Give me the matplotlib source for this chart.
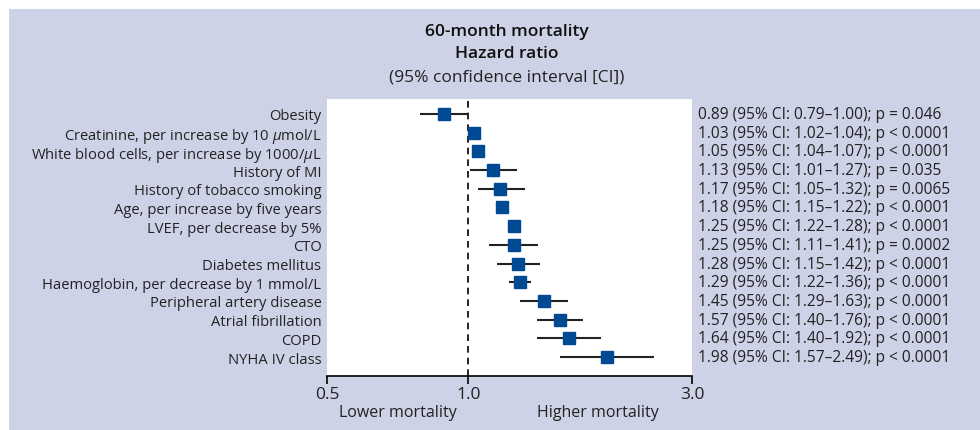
import matplotlib.pyplot as plt
from matplotlib.patches import Rectangle

# forest plot data, top to bottom
labels = [
    "Obesity",
    r"Creatinine, per increase by 10 $\mu$mol/L",
    r"White blood cells, per increase by 1000/$\mu$L",
    "History of MI",
    "History of tobacco smoking",
    "Age, per increase by five years",
    "LVEF, per decrease by 5%",
    "CTO",
    "Diabetes mellitus",
    "Haemoglobin, per decrease by 1 mmol/L",
    "Peripheral artery disease",
    "Atrial fibrillation",
    "COPD",
    "NYHA IV class",
]
hr = [0.89, 1.03, 1.05, 1.13, 1.17, 1.18, 1.25, 1.25, 1.28, 1.29, 1.45, 1.57, 1.64, 1.98]
ci_low = [0.79, 1.02, 1.04, 1.01, 1.05, 1.15, 1.22, 1.11, 1.15, 1.22, 1.29, 1.40, 1.40, 1.57]
ci_high = [1.00, 1.04, 1.07, 1.27, 1.32, 1.22, 1.28, 1.41, 1.42, 1.36, 1.63, 1.76, 1.92, 2.49]
p_sign = ["=", "<", "<", "=", "=", "<", "<", "=", "<", "<", "<", "<", "<", "<"]
p_val = ["0.046", "0.0001", "0.0001", "0.035", "0.0065", "0.0001", "0.0001",
         "0.0002", "0.0001", "0.0001", "0.0001", "0.0001", "0.0001", "0.0001"]
x_ticks = [0.5, 1.0, 3.0]

bg = "#cdd2e6"
blue = "#004a93"
font = "Open Sans"

plt.rcParams["font.family"] = [font, "DejaVu Sans"]
plt.rcParams["mathtext.fontset"] = "custom"
plt.rcParams["mathtext.it"] = font + ":italic"
plt.rcParams["mathtext.rm"] = font

fig = plt.figure(figsize=(9.8, 4.31), dpi=100, facecolor="white")
fig.patches.append(Rectangle((9 / 980, 0), 1, 1 - 10 / 431, transform=fig.transFigure,
                             facecolor=bg, edgecolor="none", zorder=-10))

ax = fig.add_axes([327 / 980, 1 - 377 / 431, 365 / 980, 277 / 431])
ax.set_facecolor("white")
ys = list(range(len(labels)))

ax.axvline(1.0, color="black", linestyle=(0, (4, 3)), linewidth=1.2, zorder=1)
ax.hlines(ys, ci_low, ci_high, color="#222222", linewidth=1.5, zorder=2)
ax.plot(hr, ys, linestyle="none", marker="s", markersize=8, color=blue, zorder=3)

ax.set_xscale("log")
ax.set_xlim(0.5, 3.0)
ax.set_xticks(x_ticks)
ax.set_xticklabels([f"{t:.1f}" for t in x_ticks], fontsize=12.5, color="#222222")
ax.minorticks_off()
ax.set_ylim(len(labels) - 1 + 19 / 18.7, -15 / 18.7)
ax.set_yticks(ys)
ax.set_yticklabels(labels, fontsize=10.6, color="#222222")
ax.tick_params(axis="y", length=0, pad=4)
ax.tick_params(axis="x", direction="out", length=6, width=1.2, pad=1)
for side in ["top", "left", "right"]:
    ax.spines[side].set_visible(False)
ax.spines["bottom"].set_linewidth(1.2)

for y, h, lo, hi, s, p in zip(ys, hr, ci_low, ci_high, p_sign, p_val):
    ax.annotate(f"{h:.2f} (95% CI: {lo:.2f}\u2013{hi:.2f}); p {s} {p}",
                xy=(1.0, y), xycoords=("axes fraction", "data"),
                xytext=(4, 0), textcoords="offset points",
                ha="left", va="center", fontsize=11.2, color="#222222")

fig.text(398 / 980, 1 - 413 / 431, "Lower mortality", ha="center", va="center",
         fontsize=11.5, color="#222222")
fig.text(598 / 980, 1 - 413 / 431, "Higher mortality", ha="center", va="center",
         fontsize=11.5, color="#222222")

fig.text(507 / 980, 1 - 32 / 431, "60-month mortality", ha="center", va="center",
         fontsize=12.5, fontweight="semibold", color="#111111")
fig.text(507 / 980, 1 - 54 / 431, "Hazard ratio", ha="center", va="center",
         fontsize=12.5, fontweight="semibold", color="#111111")
fig.text(507 / 980, 1 - 77 / 431, "(95% confidence interval [CI])", ha="center",
         va="center", fontsize=12.5, color="#222222")

fig.savefig("out.png", dpi=100, facecolor=fig.get_facecolor())
